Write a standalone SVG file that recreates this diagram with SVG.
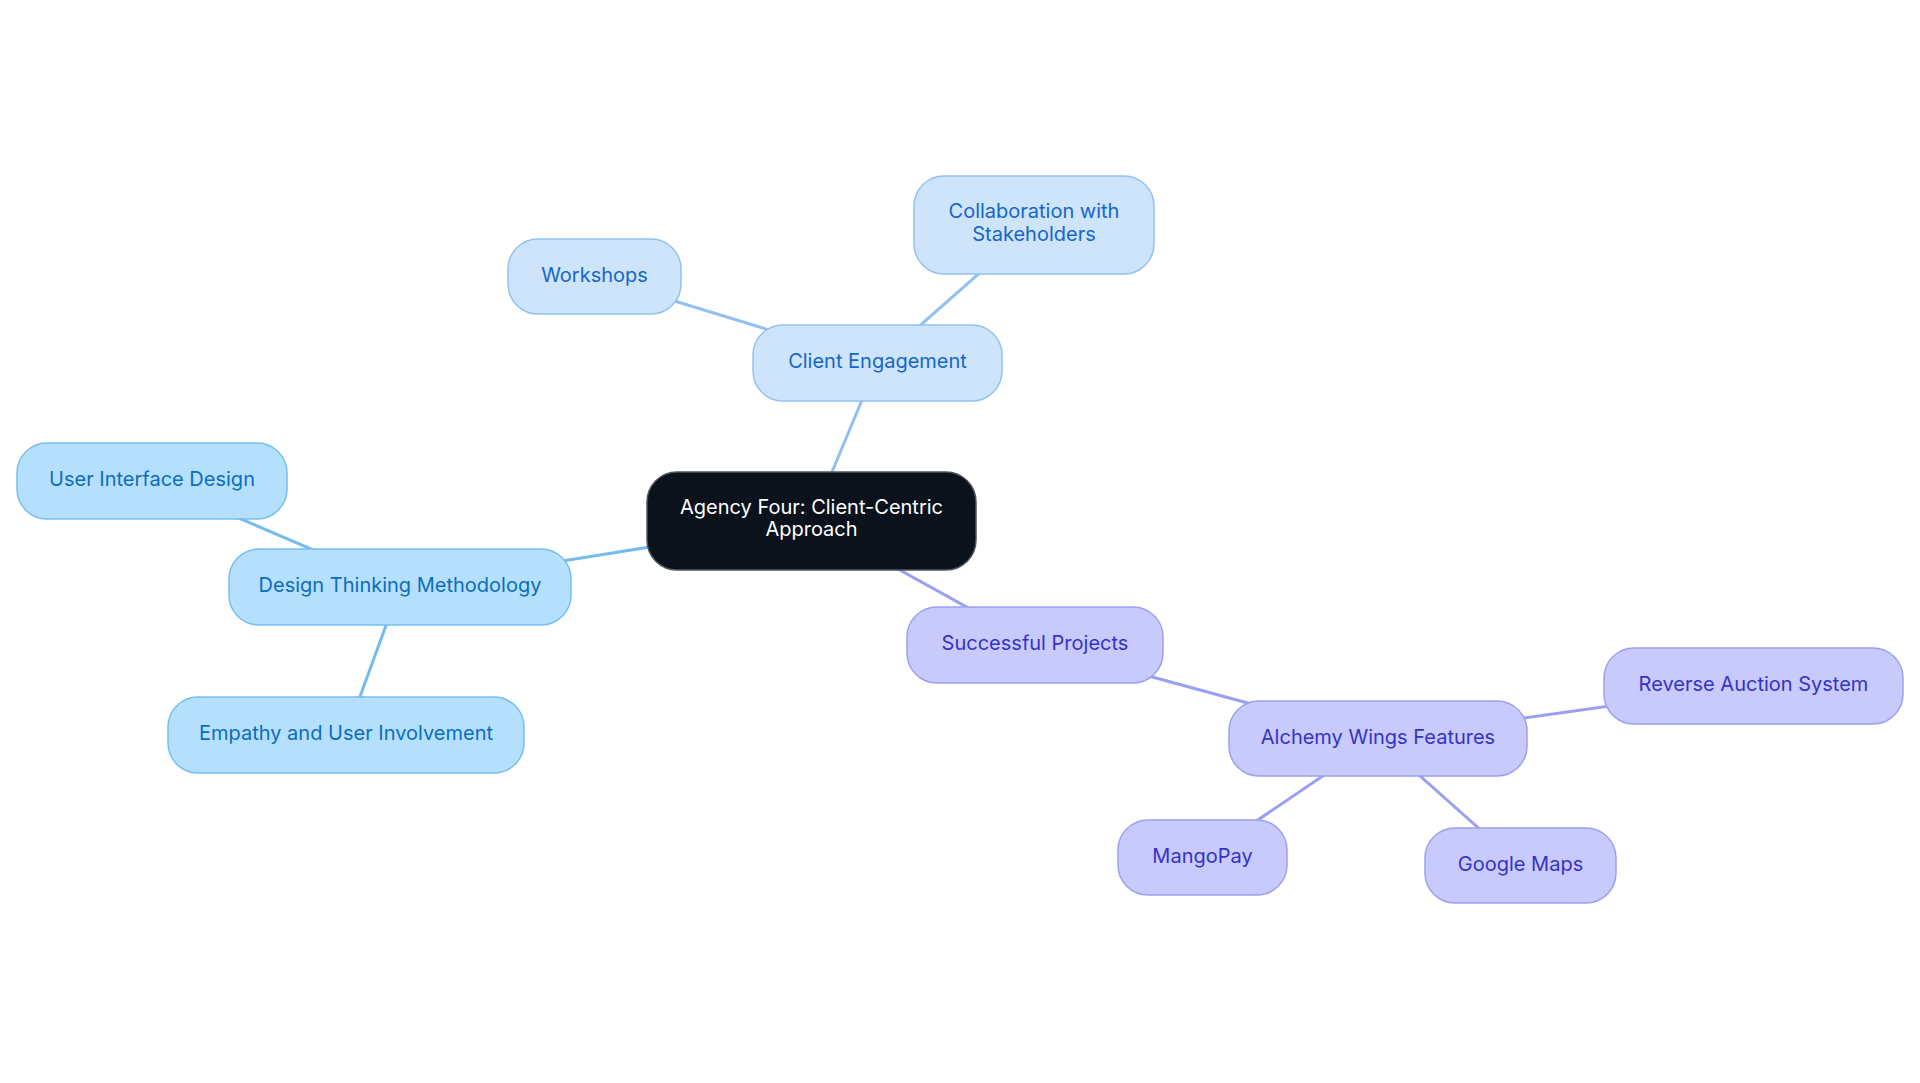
<svg xmlns="http://www.w3.org/2000/svg" width="1920" height="1083" viewBox="0 0 1920 1083">
<style>
text{font-family:Inter,"Noto Sans","Liberation Sans",sans-serif;font-size:20px;text-anchor:middle}
.c rect{fill:#cde4fb;stroke:#92c2f2;stroke-width:1.5}
.c text{fill:#1766c9}
.d rect{fill:#b5e0fd;stroke:#76bef0;stroke-width:1.5}
.d text{fill:#0b6dbf}
.p rect{fill:#c8cafc;stroke:#9ca0f1;stroke-width:1.5}
.p text{fill:#3533c6}
.root rect{fill:#0b121b;stroke:#50555c;stroke-width:1.5}
.root text{fill:#ffffff}
#connectors line{stroke-width:3;fill:none}
.lc{stroke:#92c0f0}
.ld{stroke:#74bbf0}
.lp{stroke:#9b9ff2}
</style>
<rect width="1920" height="1083" fill="#ffffff"/>
<g id="connectors">
<line class="lc" x1="811.5" y1="521" x2="877.5" y2="363"/>
<line class="lc" x1="877.5" y1="363" x2="594.5" y2="276.5"/>
<line class="lc" x1="877.5" y1="363" x2="1034" y2="225"/>
<line class="ld" x1="811.5" y1="521" x2="400" y2="587"/>
<line class="ld" x1="400" y1="587" x2="152" y2="481"/>
<line class="ld" x1="400" y1="587" x2="346" y2="735"/>
<line class="lp" x1="811.5" y1="521" x2="1035" y2="645"/>
<line class="lp" x1="1035" y1="645" x2="1378" y2="738.5"/>
<line class="lp" x1="1378" y1="738.5" x2="1753.5" y2="686"/>
<line class="lp" x1="1378" y1="738.5" x2="1202.5" y2="857.5"/>
<line class="lp" x1="1378" y1="738.5" x2="1520.5" y2="865.5"/>
</g>
<g id="root" class="root">
<rect x="647" y="472" width="329" height="98" rx="30"/>
<text x="811.5" y="514">Agency Four: Client-Centric</text>
<text x="811.5" y="536">Approach</text>
</g>
<g id="client-engagement" class="c">
<rect x="753" y="325" width="249" height="76" rx="30"/>
<text x="877.5" y="368">Client Engagement</text>
</g>
<g id="workshops" class="c">
<rect x="508" y="239" width="173" height="75" rx="30"/>
<text x="594.5" y="281.5">Workshops</text>
</g>
<g id="collaboration" class="c">
<rect x="914" y="176" width="240" height="98" rx="30"/>
<text x="1034" y="218">Collaboration with</text>
<text x="1034" y="241">Stakeholders</text>
</g>
<g id="design-thinking" class="d">
<rect x="229" y="549" width="342" height="76" rx="30"/>
<text x="400" y="592">Design Thinking Methodology</text>
</g>
<g id="ui-design" class="d">
<rect x="17" y="443" width="270" height="76" rx="30"/>
<text x="152" y="486">User Interface Design</text>
</g>
<g id="empathy" class="d">
<rect x="168" y="697" width="356" height="76" rx="30"/>
<text x="346" y="740">Empathy and User Involvement</text>
</g>
<g id="successful-projects" class="p">
<rect x="907" y="607" width="256" height="76" rx="30"/>
<text x="1035" y="650">Successful Projects</text>
</g>
<g id="alchemy-wings" class="p">
<rect x="1229" y="701" width="298" height="75" rx="30"/>
<text x="1378" y="743.5">Alchemy Wings Features</text>
</g>
<g id="reverse-auction" class="p">
<rect x="1604" y="648" width="299" height="76" rx="30"/>
<text x="1753.5" y="691">Reverse Auction System</text>
</g>
<g id="mangopay" class="p">
<rect x="1118" y="820" width="169" height="75" rx="30"/>
<text x="1202.5" y="862.5">MangoPay</text>
</g>
<g id="google-maps" class="p">
<rect x="1425" y="828" width="191" height="75" rx="30"/>
<text x="1520.5" y="870.5">Google Maps</text>
</g>
</svg>
